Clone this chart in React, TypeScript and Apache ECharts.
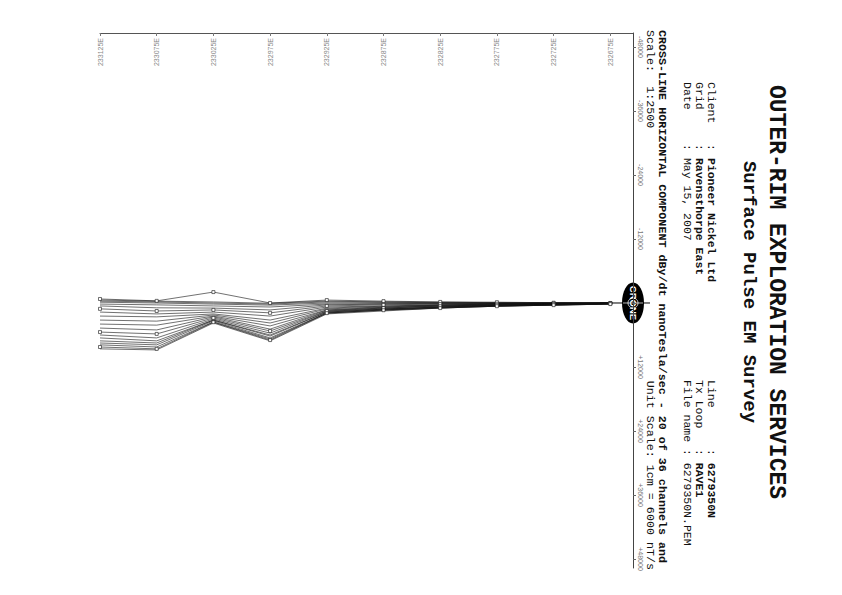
import React, { useEffect, useRef } from "react";
import * as echarts from "echarts";

// Stations (Easting) along the line, left to right on the page
const stations = [233125, 233075, 233025, 232975, 232925, 232875, 232825, 232775, 232725, 232675];
// Amplitude tick labels (nT/s)
const ampTicks = [-48000, -36000, -24000, -12000, 0, 12000, 24000, 36000, 48000];

// 20 channels, values in nT/s at each station
const ch01 = [-750, -400, -2050, 0, -550, -350, -200, -150, -50, 0];
const ch02 = [-550, -350, -200, 50, -350, -200, -150, -50, 0, 0];
const ch03 = [-350, -200, 0, 200, -200, -150, -50, 0, 0, 0];
const ch04 = [-150, 0, 200, 400, 0, 0, 0, 0, 0, 0];
const ch05 = [200, 350, 550, 750, 200, 150, 50, 50, 0, 0];
const ch06 = [550, 900, 950, 1300, 350, 200, 150, 100, 50, 0];
const ch07 = [1100, 1500, 1300, 1850, 550, 350, 200, 150, 50, 0];
const ch08 = [1700, 2050, 1700, 2450, 750, 550, 350, 200, 100, 50];
const ch09 = [2450, 2600, 2050, 3200, 950, 600, 400, 200, 150, 50];
const ch10 = [3200, 3400, 2250, 3750, 1100, 750, 400, 250, 150, 50];
const ch11 = [3950, 4150, 2450, 4300, 1300, 800, 550, 350, 200, 50];
const ch12 = [4700, 5050, 2600, 4900, 1350, 950, 550, 350, 200, 100];
const ch13 = [5450, 5800, 2800, 5250, 1500, 950, 600, 400, 200, 100];
const ch14 = [6000, 6550, 3000, 5650, 1550, 1100, 750, 400, 250, 100];
const ch15 = [6550, 7100, 3200, 6000, 1700, 1150, 750, 450, 250, 150];
const ch16 = [7100, 7500, 3200, 6200, 1700, 1150, 800, 550, 350, 150];
const ch17 = [7500, 7850, 3350, 6550, 1850, 1300, 800, 550, 350, 150];
const ch18 = [7850, 8250, 3550, 6750, 1900, 1300, 950, 600, 400, 200];
const ch19 = [8250, 8600, 3600, 6950, 1900, 1350, 950, 600, 400, 200];
const ch20 = [8600, 8800, 3750, 7100, 2050, 1500, 950, 600, 400, 200];

const channels = [ch01, ch02, ch03, ch04, ch05, ch06, ch07, ch08, ch09, ch10,
  ch11, ch12, ch13, ch14, ch15, ch16, ch17, ch18, ch19, ch20];
const markedChannels = [0, 6, 12, 18];

const ROT = -Math.PI / 2;
const MONO = "'Liberation Mono', 'DejaVu Sans Mono', monospace";

function vText(x: number, y: number, text: string, size: number, weight: string, align: string, rich?: any) {
  const style: any = {
    text,
    fontSize: size,
    fontFamily: MONO,
    fontWeight: weight,
    fill: "#111",
    align,
    verticalAlign: "middle",
    textAlign: align,
    textVerticalAlign: "middle",
  };
  if (rich) style.rich = rich;
  return { type: "text", x, y, rotation: ROT, silent: true, style };
}

export default function App() {
  const ref = useRef<HTMLDivElement>(null);

  useEffect(() => {
    const chart = echarts.init(ref.current!, null, { renderer: "svg" });
    chart.setOption({
      animation: false,
      backgroundColor: "#ffffff",
      grid: { left: 100, top: 33, width: 533, height: 535 },
      xAxis: {
        type: "value",
        position: "top",
        min: 232655,
        max: 233125,
        inverse: true,
        axisLine: { onZero: false, lineStyle: { color: "#555", width: 1 } },
        axisTick: { show: true, inside: true, length: 3, customValues: stations, lineStyle: { color: "#777" } },
        axisLabel: {
          inside: true,
          rotate: -90,
          customValues: stations,
          formatter: (v: number) => `${v}E`,
          fontSize: 7,
          color: "#888",
          fontFamily: "'Liberation Sans', sans-serif",
          margin: 5,
        },
        splitLine: { show: false },
      },
      yAxis: {
        type: "value",
        position: "right",
        min: -50625,
        max: 49688,
        inverse: true,
        axisLine: { show: true, onZero: false, lineStyle: { color: "#444", width: 1 } },
        axisTick: { show: true, customValues: ampTicks, length: 3, lineStyle: { color: "#666" } },
        axisLabel: {
          customValues: ampTicks,
          rotate: -90,
          formatter: (v: number) => (v === 0 ? "" : v > 0 ? `+${v}` : `${v}`),
          fontSize: 7,
          color: "#777",
          fontFamily: "'Liberation Sans', sans-serif",
          margin: 4,
        },
        splitLine: { show: false },
      },
      series: channels.map((vals, ci) => ({
        type: "line",
        name: `Ch ${ci + 1}`,
        data: stations.map((s, i) => [s, vals[i]]),
        showSymbol: markedChannels.includes(ci),
        symbol: "rect",
        symbolSize: 3,
        itemStyle: { color: "#fff", borderColor: "#111", borderWidth: 0.6 },
        lineStyle: { color: "#111", width: 0.6 },
        silent: true,
      })),
    });

    const [zx, zy] = chart.convertToPixel({ xAxisIndex: 0, yAxisIndex: 0 }, [232655, 0]) as number[];

    const graphics: any[] = [
      // logo
      { type: "line", silent: true, shape: { x1: zx - 33, y1: zy, x2: zx + 17, y2: zy }, style: { stroke: "#000", lineWidth: 1 } },
      { type: "ellipse", silent: true, shape: { cx: zx, cy: zy, rx: 11, ry: 20.5 }, style: { fill: "#000" } },
      { type: "circle", silent: true, shape: { cx: zx, cy: zy, r: 5 }, style: { fill: "none", stroke: "#fff", lineWidth: 0.8 } },
      { type: "line", silent: true, shape: { x1: zx - 10, y1: zy, x2: zx + 10, y2: zy }, style: { stroke: "#fff", lineWidth: 0.7 } },
      {
        type: "text", x: zx, y: zy, rotation: ROT, silent: true,
        style: {
          text: "CRONE", fontSize: 9.5, fontWeight: "bold", fontFamily: "'Liberation Sans', sans-serif",
          fill: "#fff", align: "center", verticalAlign: "middle", textAlign: "center", textVerticalAlign: "middle",
        },
      },
      // titles
      vText(776, 292, "OUTER-RIM EXPLORATION SERVICES", 23, "bold", "center"),
      vText(749, 292, "Surface Pulse EM Survey", 19, "bold", "center"),
    ];

    const fs = 11.5;
    const cw = fs * 0.6;
    const rich = {
      n: { fontSize: fs, fontFamily: MONO, fontWeight: "normal", fill: "#111" },
      b: { fontSize: fs, fontFamily: MONO, fontWeight: "bold", fill: "#111" },
    };
    const leftRows = [
      { x: 711, key: "Client", val: "Pioneer Nickel Ltd", bold: true },
      { x: 699, key: "Grid", val: "Ravensthorpe East", bold: true },
      { x: 687, key: "Date", val: "May 15, 2007", bold: false },
    ];
    const rightRows = [
      { x: 711, key: "Line", val: "6279350N", bold: true },
      { x: 699, key: "Tx Loop", val: "RAVE1", bold: true },
      { x: 687, key: "File name", val: "6279350N.PEM", bold: false },
    ];
    leftRows.forEach((r) => {
      graphics.push(vText(r.x, 82, r.key, fs, "normal", "left"));
      graphics.push(vText(r.x, 82 + 9 * cw, `{n|: }{${r.bold ? "b" : "n"}|${r.val}}`, fs, "normal", "left", rich));
    });
    rightRows.forEach((r) => {
      graphics.push(vText(r.x, 380, r.key, fs, "normal", "left"));
      graphics.push(vText(r.x, 380 + 10 * cw, `{n|: }{${r.bold ? "b" : "n"}|${r.val}}`, fs, "normal", "left", rich));
    });

    graphics.push(vText(662, 30, "CROSS-LINE HORIZONTAL COMPONENT dBy/dt nanoTesla/sec - 20 of 36 channels and", 11.7, "bold", "left"));
    graphics.push(vText(650, 30, "Scale:", 11.7, "normal", "left"));
    graphics.push(vText(650, 30 + 8 * 7.02, "1:2500", 11.7, "normal", "left"));
    graphics.push(vText(650, 570, "Unit Scale: 1cm = 6000 nT/s", 11.7, "normal", "right"));

    chart.setOption({ graphic: { elements: graphics } });

    return () => chart.dispose();
  }, []);

  return (
    <div
      ref={ref}
      style={{ position: "absolute", left: 0, top: 0, width: 842, height: 595, background: "#fff" }}
    />
  );
}
